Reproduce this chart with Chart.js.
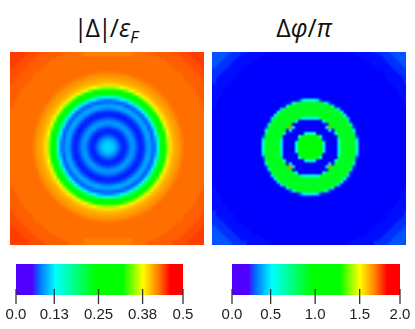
<!DOCTYPE html>
<html>
<head>
<meta charset="utf-8">
<script src="https://cdn.jsdelivr.net/npm/chart.js@4"></script>
<style>
  html, body { margin: 0; padding: 0; background: #fff; }
  #page { position: relative; width: 415px; height: 329px; overflow: hidden; }
  canvas { position: absolute; }
  .map { position: absolute; top: 52px; width: 194px; height: 193px; overflow: hidden; }
  .map canvas { filter: blur(0.7px); }
  .title { position: absolute; top: 10px; text-align: center; font: 25px "Open Sans", sans-serif; color: #111; white-space: nowrap; }
  .title sub { font-size: 17px; line-height: 0; }
  .title b { font-weight: 400; letter-spacing: -2px; }
</style>
</head>
<body>
<div id="page">
  <div class="title" style="left:6px;width:200px"><b>|Δ|</b>/<i>ε<sub>F</sub></i></div>
  <div class="title" style="left:204px;width:200px">Δ<i>φ</i>/<i>π</i></div>
  <div class="map" style="left:10px"><canvas id="absMap" width="204" height="204" style="left:-5.5px;top:-8px;width:206px;height:206px"></canvas></div>
  <div class="map" style="left:212px"><canvas id="phaseMap" width="204" height="204" style="left:-5px;top:-8px;width:206px;height:206px"></canvas></div>
  <canvas id="absBar" width="207" height="79" style="left:0;top:250px"></canvas>
  <canvas id="phaseBar" width="208" height="79" style="left:207px;top:250px"></canvas>
</div>
<script>
'use strict';

// one quadrant of each map, row 0 next to the centre, in hundredths
let absRows = [
  [11,10.7,10,8.8,7.5,7.2,8.2,9.5,9.5,8.3,7.3,7.5,9,10,9,9,13.1,24.1,29.5,35.1,39,40.5,41.2,41.7,42.5,43,43,43,43,43,43,43],
  [10.7,10.4,9.6,8.3,7.3,7.3,8.5,9.6,9.4,8.1,7.2,7.6,9.2,10,8.9,9.3,13.7,24.4,29.8,35.4,39.1,40.5,41.3,41.8,42.5,43,43,43,43,43,43,43],
  [10,9.6,8.8,7.7,7.1,7.6,8.9,9.9,9.1,7.8,7.1,7.8,9.5,10,8.6,9.8,15,25,30.3,36,39.3,40.7,41.3,41.8,42.6,43,43,43,43,43,43,43],
  [8.8,8.3,7.7,7,7.3,8.2,9.4,9.7,8.7,7.4,7.1,8,10,10,8.2,10.6,16.7,26.1,31.1,36.9,39.6,40.8,41.4,41.9,42.7,43,43,43,43,43,43,43],
  [7.5,7.3,7.1,7.3,7.9,9.1,9.9,9.3,8.1,7.3,7.4,8.7,10,9.6,8.4,11.6,19.2,27.3,32.2,38,40,41,41.5,42,42.9,43,43,43,43,43,43,43],
  [7.2,7.3,7.6,8.2,9.1,9.8,9.5,8.6,7.4,7,7.8,9.5,10,8.9,9,12.8,22.8,28.7,33.8,38.5,40.2,41.1,41.6,42.1,43,43,43,43,43,43,43,43],
  [8.2,8.5,8.9,9.4,9.9,9.5,8.7,7.6,7.2,7.5,8.7,10,9.8,8,10.6,16.1,25.4,30.3,35.7,39.1,40.5,41.2,41.7,42.4,43,43,43,43,43,43,43,43],
  [9.5,9.6,9.9,9.7,9.3,8.6,7.6,7.2,7.3,8.2,9.8,10,8.9,8.9,12.3,20.6,27.6,32.2,37.8,39.8,40.8,41.4,41.9,42.7,43,43,43,43,43,43,43,43],
  [9.5,9.4,9.1,8.7,8.1,7.4,7.2,7.3,8,9.5,10,9.4,8.2,10.8,16.1,25,29.8,34.8,38.7,40.3,41.1,41.6,42.1,43,43,43,43,43,43,43,43,43],
  [8.3,8.1,7.8,7.4,7.3,7,7.5,8.2,9.5,10,9.7,8.2,9.8,13.1,22,27.9,32.2,37.5,39.6,40.7,41.3,41.8,42.4,43,43,43,43,43,43,43,43,43],
  [7.3,7.2,7.1,7.1,7.4,7.8,8.7,9.8,10,9.7,8.3,9.3,12.3,19.2,26.4,30.6,35.4,38.8,40.3,41.1,41.5,42,42.8,43,43,43,43,43,43,43,43,43],
  [7.5,7.6,7.8,8,8.7,9.5,10,10,9.4,8.2,9.3,12.1,17.9,25.4,29.5,33.8,38.2,39.9,40.8,41.3,41.8,42.4,43,43,43,43,43,43,43,43,43,43],
  [9,9.2,9.5,10,10,10,9.8,8.9,8.2,9.8,12.3,17.9,25,29,32.9,37.5,39.4,40.5,41.2,41.6,42,42.9,43,43,43,43,43,43,43,43,43,43],
  [10,10,10,10,9.6,8.9,8,8.9,10.8,13.1,19.2,25.4,29,32.6,36.9,39.1,40.3,41.1,41.5,41.9,42.5,43,43,43,43,43,43,43,43,43,43,43.5],
  [9,8.9,8.6,8.2,8.4,9,10.6,12.3,16.1,22,26.4,29.5,32.9,36.9,39,40.2,41,41.4,41.8,42.3,43,43,43,43,43,43,43,43,43,43,43,43.5],
  [9,9.3,9.8,10.6,11.6,12.8,16.1,20.6,25,27.9,30.6,33.8,37.5,39.1,40.2,40.9,41.3,41.7,42.1,42.9,43,43,43,43,43,43,43,43,43,43,43.5,43.5],
  [13.1,13.7,15,16.7,19.2,22.8,25.4,27.6,29.8,32.2,35.4,38.2,39.4,40.3,41,41.3,41.7,42.1,42.8,43,43,43,43,43,43,43,43,43,43,43,43.5,43.5],
  [24.1,24.4,25,26.1,27.3,28.7,30.3,32.2,34.8,37.5,38.8,39.9,40.5,41.1,41.4,41.7,42.1,42.7,43,43,43,43,43,43,43,43,43,43,43,43.5,43.5,43.5],
  [29.5,29.8,30.3,31.1,32.2,33.8,35.7,37.8,38.7,39.6,40.3,40.8,41.2,41.5,41.8,42.1,42.8,43,43,43,43,43,43,43,43,43,43,43,43,43.5,43.5,43.5],
  [35.1,35.4,36,36.9,38,38.5,39.1,39.8,40.3,40.7,41.1,41.3,41.6,41.9,42.3,42.9,43,43,43,43,43,43,43,43,43,43,43,43,43.5,43.5,43.5,43.5],
  [39,39.1,39.3,39.6,40,40.2,40.5,40.8,41.1,41.3,41.5,41.8,42,42.5,43,43,43,43,43,43,43,43,43,43,43,43,43,43.5,43.5,43.5,43.5,43.5],
  [40.5,40.5,40.7,40.8,41,41.1,41.2,41.4,41.6,41.8,42,42.4,42.9,43,43,43,43,43,43,43,43,43,43,43,43,43,43.5,43.5,43.5,43.5,43.5,44],
  [41.2,41.3,41.3,41.4,41.5,41.6,41.7,41.9,42.1,42.4,42.8,43,43,43,43,43,43,43,43,43,43,43,43,43,43,43.5,43.5,43.5,43.5,43.5,43.5,44],
  [41.8,41.8,41.8,41.9,42,42.1,42.4,42.7,43,43,43,43,43,43,43,43,43,43,43,43,43,43,43,43,43,43.5,43.5,43.5,43.5,43.5,44,44],
  [42.5,42.5,42.6,42.7,42.9,43,43,43,43,43,43,43,43,43,43,43,43,43,43,43,43,43,43,43,43.5,43.5,43.5,43.5,43.5,44,44,44],
  [43,43,43,43,43,43,43,43,43,43,43,43,43,43,43,43,43,43,43,43,43,43,43.5,43.5,43.5,43.5,43.5,43.5,44,44,44,44],
  [43,43,43,43,43,43,43,43,43,43,43,43,43,43,43,43,43,43,43,43,43,43.5,43.5,43.5,43.5,43.5,43.5,44,44,44,44,44.5],
  [43,43,43,43,43,43,43,43,43,43,43,43,43,43,43,43,43,43,43,43,43.5,43.5,43.5,43.5,43.5,43.5,44,44,44,44,44.5,44.5],
  [43,43,43,43,43,43,43,43,43,43,43,43,43,43,43,43,43,43,43,43.5,43.5,43.5,43.5,43.5,43.5,44,44,44,44,44.5,44.5,44.5],
  [43,43,43,43,43,43,43,43,43,43,43,43,43,43,43,43,43,43.5,43.5,43.5,43.5,43.5,43.5,43.5,44,44,44,44,44.5,44.5,44.5,44.5],
  [42.5,42.5,42.5,42.5,42.5,42.5,42.5,42.5,43,43,43,43,43,43,43,43.5,43.5,43.5,43.5,43.5,43.5,43.5,43.5,44,44,44,44,44.5,44.5,44.5,44.5,44.5],
  [42.5,42.5,42.5,42.5,42.5,42.5,42.5,42.5,43,43,43,43,43,43.5,43.5,43.5,43.5,43.5,43.5,43.5,43.5,44,44,44,44,44,44.5,44.5,44.5,44.5,44.5,44.5]
];

let phaseRows = [
  [95,95,95,95,55,24,24,24,24,55,90,90,90,90,90,56,24,24,24,24,24,24,24,24,24,24,24,24,24,24,24,24],
  [95,95,95,95,55,24,24,24,24,55,90,90,90,90,90,52,24,24,24,24,24,24,24,24,24,24,24,24,24,24,24,24],
  [95,95,95,95,24,24,24,24,24,55,90,90,90,90,90,44,24,24,24,24,24,24,24,24,24,24,24,24,24,24,24,24],
  [95,95,95,55,24,24,24,24,24,90,90,90,90,90,90,31,24,24,24,24,24,24,24,24,24,24,24,24,24,24,24,24],
  [55,55,24,24,24,24,24,24,55,90,90,90,90,90,78,24,24,24,24,24,24,24,24,24,24,24,24,24,24,24,24,24],
  [24,24,24,24,24,24,50,24,90,90,90,90,90,90,57,24,24,24,24,24,24,24,24,24,24,24,24,24,24,24,24,24],
  [24,24,24,24,24,50,170,95,90,90,90,90,90,90,31,24,24,24,24,24,24,24,24,24,24,24,24,24,24,24,24,24],
  [24,24,24,24,24,24,95,90,90,90,90,90,90,61,24,24,24,24,24,24,24,24,24,24,24,24,24,24,24,24,24,24],
  [24,24,24,24,55,90,90,90,90,90,90,90,82,27,24,24,24,24,24,24,24,24,24,24,24,24,24,24,24,24,24,24],
  [55,55,55,90,90,90,90,90,90,90,90,90,44,24,24,24,24,24,24,24,24,24,24,24,24,24,24,24,24,24,24,24],
  [90,90,90,90,90,90,90,90,90,90,90,52,24,24,24,24,24,24,24,24,24,24,24,24,24,24,24,24,24,24,24,24],
  [90,90,90,90,90,90,90,90,90,90,52,24,24,24,24,24,24,24,24,24,24,24,24,24,24,24,24,24,24,24,24,24],
  [90,90,90,90,90,90,90,90,82,44,24,24,24,24,24,24,24,24,24,24,24,24,24,24,24,24,24,24,24,24,24,24],
  [90,90,90,90,90,90,90,61,27,24,24,24,24,24,24,24,24,24,24,24,24,24,24,24,24,24,24,24,24,24,24,27],
  [90,90,90,90,78,57,31,24,24,24,24,24,24,24,24,24,24,24,24,24,24,24,24,24,24,24,24,24,24,24,24,27],
  [56,52,44,31,24,24,24,24,24,24,24,24,24,24,24,24,24,24,24,24,24,24,24,24,24,24,24,24,24,24,27,27],
  [24,24,24,24,24,24,24,24,24,24,24,24,24,24,24,24,24,24,24,24,24,24,24,24,24,24,24,24,24,24,27,27],
  [24,24,24,24,24,24,24,24,24,24,24,24,24,24,24,24,24,24,24,24,24,24,24,24,24,24,24,24,24,27,27,27],
  [24,24,24,24,24,24,24,24,24,24,24,24,24,24,24,24,24,24,24,24,24,24,24,24,24,24,24,24,24,27,27,27],
  [24,24,24,24,24,24,24,24,24,24,24,24,24,24,24,24,24,24,24,24,24,24,24,24,24,24,24,24,27,27,27,27],
  [24,24,24,24,24,24,24,24,24,24,24,24,24,24,24,24,24,24,24,24,24,24,24,24,24,24,24,27,27,27,27,27],
  [24,24,24,24,24,24,24,24,24,24,24,24,24,24,24,24,24,24,24,24,24,24,24,24,24,24,27,27,27,27,27,30],
  [24,24,24,24,24,24,24,24,24,24,24,24,24,24,24,24,24,24,24,24,24,24,24,24,24,27,27,27,27,27,27,30],
  [24,24,24,24,24,24,24,24,24,24,24,24,24,24,24,24,24,24,24,24,24,24,24,24,24,27,27,27,27,27,30,30],
  [24,24,24,24,24,24,24,24,24,24,24,24,24,24,24,24,24,24,24,24,24,24,24,24,27,27,27,27,27,30,30,30],
  [24,24,24,24,24,24,24,24,24,24,24,24,24,24,24,24,24,24,24,24,24,24,27,27,27,27,27,27,30,30,30,30],
  [24,24,24,24,24,24,24,24,24,24,24,24,24,24,24,24,24,24,24,24,24,27,27,27,27,27,27,30,30,30,30,33],
  [24,24,24,24,24,24,24,24,24,24,24,24,24,24,24,24,24,24,24,24,27,27,27,27,27,27,30,30,30,30,33,33],
  [24,24,24,24,24,24,24,24,24,24,24,24,24,24,24,24,24,24,24,27,27,27,27,27,27,30,30,30,30,33,33,33],
  [24,24,24,24,24,24,24,24,24,24,24,24,24,24,24,24,24,27,27,27,27,27,27,27,30,30,30,30,33,33,33,33],
  [24,24,24,24,24,24,24,24,24,24,24,24,24,24,24,27,27,27,27,27,27,27,27,30,30,30,30,33,33,33,33,33],
  [24,24,24,24,24,24,24,24,24,24,24,24,24,27,27,27,27,27,27,27,27,30,30,30,30,30,33,33,33,33,33,33]
];

let absMax = 0.5;
let phaseMax = 2.0;

let absTickValues = [0, 0.1145, 0.247, 0.379, 0.5];
let absTickLabels = ['0.0', '0.13', '0.25', '0.38', '0.5'];
let phaseTickValues = [0, 0.46, 0.99, 1.52, 2.0];
let phaseTickLabels = ['0.0', '0.5', '1.0', '1.5', '2.0'];

let barStops = [0, 0.097, 0.115, 0.14, 0.237, 0.48, 0.64, 0.76, 0.85, 0.925, 1];
let barColors = [[80,0,255],[80,0,255],[40,50,255],[0,110,255],[0,255,255],[0,255,0],[0,255,0],[255,255,0],[255,128,0],[255,0,0],[255,0,0]];
let heatStops = [0, 0.13, 0.237, 0.48, 0.64, 0.76, 0.85, 0.925, 1];
let heatColors = [[0,0,255],[0,0,255],[0,255,255],[0,255,0],[0,255,0],[255,255,0],[255,128,0],[255,0,0],[255,0,0]];


function heatColor(t) {
  let k = 1;
  while (k < heatStops.length - 1 && t > heatStops[k]) {
    k++;
  }
  let f = (t - heatStops[k-1]) / (heatStops[k] - heatStops[k-1]);
  f = Math.max(0, Math.min(1, f));
  let a = heatColors[k-1];
  let b = heatColors[k];
  let c = [0, 1, 2].map(n => Math.round(a[n] + (b[n] - a[n]) * f));
  return `rgb(${c[0]},${c[1]},${c[2]})`;
}

// the quadrant is mirrored into the cells of the map, with a spare
// border past the panel edge so the soft edge of the blur stays hidden
function renderMap(id, rows, maxValue) {
  let cells = 68;
  let half = cells / 2;
  let points = [];
  let colors = [];
  for (let y = 0; y < cells; y++) {
    let row = rows[Math.min(y < half ? half - 1 - y : y - half, 31)];
    for (let x = 0; x < cells; x++) {
      let value = row[Math.min(x < half ? half - 1 - x : x - half, 31)] / 100;
      points.push({ x: x, y: y });
      colors.push(heatColor(value / maxValue));
    }
  }
  new Chart(document.getElementById(id), {
    type: 'scatter',
    data: {
      datasets: [{
        data: points,
        pointStyle: 'rect',
        pointRadius: 2.15,
        pointBorderWidth: 0,
        pointBackgroundColor: colors
      }]
    },
    options: {
      responsive: false,
      devicePixelRatio: 1 / 3,
      animation: false,
      events: [],
      layout: { padding: 0, autoPadding: false },
      scales: {
        x: { type: 'linear', display: false, min: -0.5, max: cells - 0.5 },
        y: { type: 'linear', display: false, min: -0.5, max: cells - 0.5 }
      },
      plugins: { legend: { display: false }, tooltip: { enabled: false } }
    }
  });
}

// ticks start inside the colour bar, so they are stroked on top of it
let barTicks = {
  id: 'barTicks',
  afterDraw(chart) {
    let ctx = chart.ctx;
    let scale = chart.scales.x;
    ctx.save();
    ctx.strokeStyle = '#333';
    ctx.lineWidth = 1.3;
    scale.ticks.forEach((t, i) => {
      let px = scale.getPixelForTick(i);
      ctx.beginPath();
      ctx.moveTo(px, chart.chartArea.bottom - 6);
      ctx.lineTo(px, chart.chartArea.bottom + 9);
      ctx.stroke();
    });
    ctx.restore();
  }
};

function renderBar(id, maxValue, tickValues, tickLabels, padLeft, padRight) {
  new Chart(document.getElementById(id), {
    type: 'bar',
    data: {
      labels: ['scale'],
      datasets: [{
        data: [[0, maxValue]],
        barPercentage: 1,
        categoryPercentage: 1,
        borderWidth: 0,
        backgroundColor(c) {
          let area = c.chart.chartArea;
          if (!area) {
            return '#000';
          }
          let g = c.chart.ctx.createLinearGradient(area.left, 0, area.right, 0);
          barStops.forEach((s, i) => {
            let b = barColors[i];
            g.addColorStop(s, `rgb(${b[0]},${b[1]},${b[2]})`);
          });
          return g;
        }
      }]
    },
    options: {
      indexAxis: 'y',
      responsive: false,
      animation: false,
      events: [],
      layout: { padding: { left: padLeft, right: padRight, top: 14, bottom: 0 } },
      scales: {
        y: { display: false },
        x: {
          type: 'linear',
          min: 0,
          max: maxValue,
          border: { display: false },
          grid: { display: false },
          afterBuildTicks(s) {
            s.ticks = tickValues.map(v => ({ value: v }));
          },
          afterFit(s) {
            s.height = 34;
          },
          ticks: {
            autoSkip: false,
            maxRotation: 0,
            padding: 3,
            color: '#222',
            font: { family: '"Liberation Sans"', size: 15 },
            callback: (v, i) => tickLabels[i]
          }
        }
      },
      plugins: { legend: { display: false }, tooltip: { enabled: false } }
    },
    plugins: [barTicks]
  });
}

renderMap('absMap', absRows, absMax);
renderMap('phaseMap', phaseRows, phaseMax);
renderBar('absBar', absMax, absTickValues, absTickLabels, 16, 24);
renderBar('phaseBar', phaseMax, phaseTickValues, phaseTickLabels, 25, 15);
</script>
</body>
</html>
